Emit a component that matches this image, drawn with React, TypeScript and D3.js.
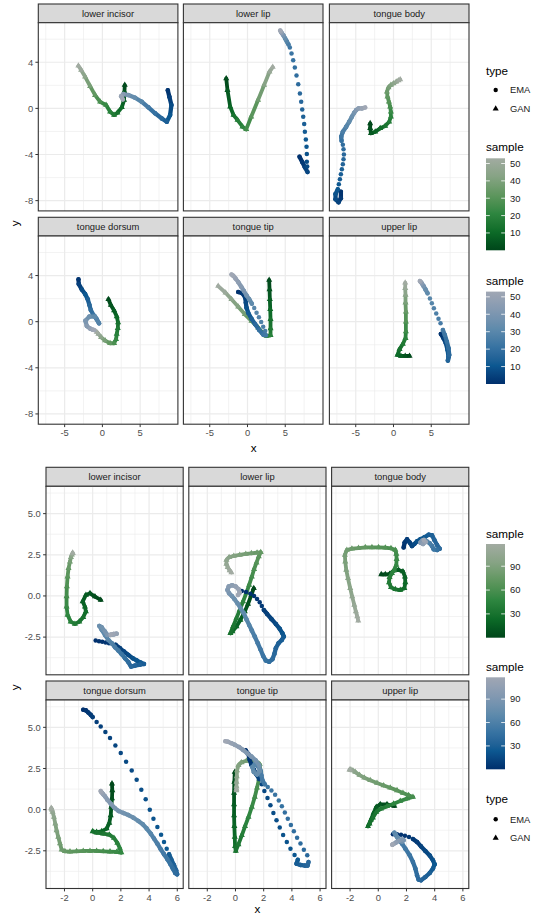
import React, { useEffect, useRef } from 'react';
import * as d3 from 'd3';

// one point of a trajectory: [sample, x, y]
type Pt = [number, number, number];

const facetNames = ['lower incisor', 'lower lip', 'tongue body', 'tongue dorsum', 'tongue tip', 'upper lip'];
const typeNames = ['EMA', 'GAN'];

// axes of the upper figure
const topXTicks = [-5, 0, 5];
const topXMinor = [-7.5, -2.5, 2.5, 7.5];
const topYTicks = [-8, -4, 0, 4];
const topYMinor = [-6, -2, 2, 6];
const topSampleBreaks = [10, 20, 30, 40, 50];
const topSampleRange = [0, 53];

// axes of the lower figure
const botXTicks = [-2, 0, 2, 4, 6];
const botXMinor = [-3, -1, 1, 3, 5];
const botYTicks = [-2.5, 0, 2.5, 5];
const botYMinor = [-3.75, -1.25, 1.25, 3.75, 6.25];
const botSampleBreaks = [30, 60, 90];
const botSampleRange = [0, 118];

// ---- upper figure trajectories ----
const topLowerIncisorGan: Pt[] = [
  [0, 2.96, 2.02], [3, 2.92, 1.44], [6, 2.87, 0.72], [9, 2.57, 0.09], [12, 1.99, -0.38], [15, 1.55, -0.58],
  [18, 1.02, -0.29], [21, 0.49, 0.29], [25, -0.3, 0.57], [30, -0.97, 1.15], [36, -1.63, 1.93], [42, -2.29, 2.74],
  [48, -2.82, 3.32], [53, -3.18, 3.69],
];
const topLowerIncisorEma: Pt[] = [
  [0, 8.66, 1.58], [3, 8.87, 1.0], [6, 9.14, 0.29], [9, 8.97, -0.58], [12, 8.53, -1.16], [15, 7.87, -0.87],
  [19, 6.98, -0.43], [23, 6.09, 0.09], [27, 5.22, 0.57], [31, 4.33, 0.92], [36, 3.44, 1.15], [42, 2.78, 1.24],
  [47, 2.48, 1.06], [53, 2.7, 0.78],
];
const topLowerLipGan: Pt[] = [
  [0, -2.82, 2.6], [4, -2.65, 1.58], [8, -2.29, 0.14], [12, -1.85, -0.58], [16, -1.32, -1.01], [20, -0.66, -1.59],
  [23, -0.17, -1.82], [28, 0.49, -0.73], [34, 1.4, 0.72], [40, 2.2, 2.02], [46, 2.91, 3.17], [53, 3.34, 3.58],
];
const topLowerLipEma: Pt[] = [
  [0, 6.89, -4.19], [2, 7.25, -4.65], [4, 7.6, -5.11], [6, 7.95, -5.52], [7, 7.91, -5.05], [8, 7.86, -4.62],
  [9, 7.86, -3.96], [10, 7.82, -3.32], [11, 7.73, -2.69], [12, 7.6, -2.02], [13, 7.51, -1.36], [14, 7.38, -0.72],
  [15, 7.25, -0.09], [16, 7.11, 0.57], [17, 6.94, 1.3], [18, 6.72, 2.1], [19, 6.49, 2.85], [20, 6.27, 3.55],
  [21, 6.05, 4.18], [22, 5.83, 4.76], [23, 5.61, 5.28], [24, 5.43, 5.54], [27, 5.21, 5.8], [31, 4.99, 6.06],
  [36, 4.77, 6.32], [42, 4.55, 6.52], [48, 4.42, 6.66], [53, 4.33, 6.75],
];
const topTongueBodyGan: Pt[] = [
  [0, -3.09, -1.3], [2, -3.09, -1.73], [4, -2.99, -2.16], [7, -2.42, -2.03], [10, -1.76, -1.73], [13, -1.1, -1.53],
  [16, -0.57, -1.16], [19, -0.35, -0.73], [22, -0.35, -0.29], [25, -0.44, 0.14], [28, -0.61, 0.57], [31, -0.79, 1.0],
  [34, -0.87, 1.44], [37, -0.66, 1.82], [40, -0.35, 2.02], [43, 0, 2.16], [46, 0.36, 2.3], [50, 0.66, 2.42],
  [53, 0.89, 2.51],
];
const topTongueBodyEma: Pt[] = [
  [0, -6.97, -7.22], [2, -6.97, -7.79], [4, -7.28, -8.14], [6, -7.68, -7.88], [8, -7.68, -7.42], [10, -7.37, -7.02],
  [11, -7.24, -6.58], [12, -7.1, -6.15], [13, -6.97, -5.72], [14, -6.84, -5.28], [15, -6.71, -4.85], [16, -6.62, -4.42],
  [17, -6.57, -3.99], [18, -6.62, -3.55], [19, -6.71, -3.15], [20, -6.88, -2.8], [22, -6.93, -2.46], [25, -6.71, -2.02],
  [28, -6.26, -1.59], [31, -5.87, -1.16], [34, -5.51, -0.72], [37, -5.21, -0.38], [40, -4.94, -0.15], [44, -4.63, 0],
  [48, -4.19, 0], [53, -3.75, 0.08],
];
const topTongueDorsumGan: Pt[] = [
  [0, 0.8, 1.94], [3, 1.11, 1.45], [6, 1.55, 0.96], [9, 1.9, 0.44], [12, 2.08, -0.08], [15, 2.04, -0.57],
  [18, 1.9, -1.06], [21, 1.81, -1.53], [25, 1.55, -1.87], [30, 1.02, -1.87], [36, 0.36, -1.64], [42, -0.17, -1.35],
  [48, -0.53, -1.06], [53, -0.75, -0.89],
];
const topTongueDorsumEma: Pt[] = [
  [0, -3.17, 3.67], [3, -3.13, 3.26], [6, -2.73, 2.8], [9, -2.29, 2.4], [12, -1.94, 1.94], [15, -1.72, 1.45],
  [18, -1.54, 1.01], [21, -1.19, 0.58], [24, -0.75, 0.21], [27, -0.44, -0.14], [30, -0.97, 0.44], [34, -1.72, 0.44],
  [38, -2.25, 0.09], [42, -2.07, -0.37], [46, -1.63, -0.6], [50, -1.28, -0.69], [53, -1.1, -0.72],
];
const topTongueTipGan: Pt[] = [
  [0, 2.87, 3.61], [3, 2.92, 2.8], [6, 2.96, 1.94], [9, 3.01, 1.07], [12, 3.05, 0.21], [15, 3.05, -0.6],
  [18, 3.05, -1.18], [21, 2.52, -1.24], [24, 2.08, -1.01], [28, 1.42, -0.52], [32, 0.53, 0.06], [36, -0.35, 0.64],
  [40, -1.23, 1.3], [44, -2.12, 1.94], [48, -2.91, 2.51], [53, -3.88, 3.09],
];
const topTongueTipEma: Pt[] = [
  [0, -1.23, 2.57], [2, -0.66, 2.46], [4, -0.3, 2.08], [6, -0.22, 1.65], [8, -0.13, 1.21], [10, 0.09, 0.78],
  [13, 0.53, 0.26], [16, 1.02, -0.23], [19, 1.55, -0.72], [22, 2.08, -1.12], [24, 2.43, -1.18], [25, 2.34, -0.81],
  [26, 2.08, -0.43], [27, 1.81, -0.03], [28, 1.51, 0.38], [29, 1.2, 0.78], [30, 0.89, 1.19], [31, 0.58, 1.56],
  [33, 0.23, 1.94], [36, -0.13, 2.28], [39, -0.48, 2.66], [42, -0.83, 3.03], [45, -1.23, 3.44], [48, -1.59, 3.75],
  [51, -1.89, 3.99], [53, -2.12, 4.1],
];
const topUpperLipGan: Pt[] = [
  [0, 2.12, -2.97], [3, 1.55, -2.97], [6, 0.98, -2.97], [9, 0.53, -2.88], [12, 0.8, -2.39], [15, 1.24, -1.93],
  [18, 1.59, -1.44], [22, 1.64, -0.86], [27, 1.64, 0.0], [32, 1.64, 0.87], [37, 1.59, 1.65], [42, 1.59, 2.31],
  [47, 1.55, 2.89], [53, 1.55, 3.38],
];
const topUpperLipEma: Pt[] = [
  [0, 6.27, -1.06], [3, 6.63, -1.44], [6, 6.94, -1.87], [9, 7.16, -2.45], [12, 7.29, -3.03], [14, 7.2, -3.37],
  [16, 7.38, -2.88], [18, 7.29, -2.31], [20, 7.07, -1.73], [22, 6.8, -1.15], [24, 6.54, -0.72], [25, 6.23, -0.14],
  [26, 5.96, 0.26], [27, 5.66, 0.7], [28, 5.35, 1.16], [29, 5.08, 1.59], [30, 4.82, 2.02], [31, 4.51, 2.46],
  [33, 4.24, 2.8], [37, 3.98, 3.09], [42, 3.76, 3.32], [47, 3.58, 3.47], [53, 3.49, 3.52],
];

// ---- lower figure trajectories ----
const botLowerIncisorGan: Pt[] = [
  [0, 0.57, -0.24], [4, 0.16, -0.04], [8, -0.19, 0.16], [12, -0.48, 0.06], [16, -0.71, -0.34], [20, -0.55, -0.65],
  [24, -0.48, -0.95], [28, -0.67, -1.29], [32, -0.95, -1.56], [36, -1.26, -1.7], [40, -1.56, -1.56], [45, -1.78, -1.15],
  [50, -1.85, -0.65], [55, -1.85, -0.04], [60, -1.83, 0.57], [66, -1.78, 1.17], [72, -1.71, 1.68], [80, -1.61, 2.08],
  [90, -1.54, 2.35], [100, -1.47, 2.51], [110, -1.42, 2.59], [118, -1.42, 2.63],
];
const botLowerIncisorEma: Pt[] = [
  [0, 0.21, -2.71], [1, 0.45, -2.75], [2, 0.68, -2.79], [3, 0.92, -2.83], [4, 1.16, -2.87], [5, 1.39, -2.91],
  [6, 1.63, -2.97], [9, 1.94, -3.18], [12, 2.22, -3.38], [15, 2.53, -3.58], [18, 2.84, -3.78], [21, 3.12, -3.92],
  [24, 3.41, -4.05], [27, 3.64, -4.13], [30, 3.36, -4.17], [33, 3.0, -4.23], [36, 2.72, -4.29], [40, 2.53, -4.02],
  [44, 2.29, -3.78], [48, 2.06, -3.54], [52, 1.82, -3.32], [56, 1.58, -3.11], [60, 1.35, -2.87], [64, 1.11, -2.67],
  [68, 0.87, -2.37], [72, 0.64, -2.06], [76, 0.47, -1.82], [80, 0.64, -1.9], [84, 0.87, -2.16], [88, 1.04, -2.37],
  [94, 1.28, -2.37], [100, 1.51, -2.33], [106, 1.7, -2.29], [112, 1.47, -2.31], [118, 1.28, -2.35],
];
const botLowerLipGan: Pt[] = [
  [0, 1.3, 0.47], [4, 1.13, 0.06], [8, 0.89, -0.49], [12, 0.66, -0.95], [16, 0.35, -1.46], [20, 0.07, -1.86],
  [24, -0.22, -2.16], [28, -0.36, -2.27], [32, -0.17, -1.86], [36, 0.07, -1.35], [40, 0.3, -0.85], [44, 0.54, -0.34],
  [48, 0.78, 0.2], [52, 0.97, 0.67], [56, 1.16, 1.17], [60, 1.32, 1.62], [64, 1.49, 2.02], [68, 1.65, 2.39],
  [72, 1.79, 2.65], [76, 1.53, 2.63], [80, 1.13, 2.59], [84, 0.73, 2.55], [88, 0.3, 2.49], [92, -0.12, 2.43],
  [96, -0.45, 2.35], [100, -0.64, 2.18], [104, -0.64, 1.94], [108, -0.55, 1.74], [113, -0.41, 1.54], [118, -0.29, 1.42],
];
const botLowerLipEma: Pt[] = [
  [0, 0.45, 0.3], [1, 0.75, 0.24], [2, 1.06, 0.14], [3, 1.32, 0], [4, 1.53, -0.18], [5, 1.72, -0.38],
  [6, 1.87, -0.61], [7, 2.01, -0.85], [9, 2.24, -1.09], [12, 2.55, -1.4], [15, 2.86, -1.7], [18, 3.14, -2.0],
  [21, 3.33, -2.27], [24, 3.43, -2.47], [27, 3.29, -2.67], [30, 3.05, -2.87], [33, 2.86, -3.18], [36, 2.76, -3.52],
  [39, 2.62, -3.84], [42, 2.39, -4.0], [45, 2.15, -3.92], [48, 1.96, -3.64], [51, 1.77, -3.24], [54, 1.58, -2.87],
  [57, 1.37, -2.47], [60, 1.16, -2.1], [63, 0.97, -1.76], [66, 0.78, -1.42], [69, 0.59, -1.05], [72, 0.37, -0.75],
  [75, 0.14, -0.44], [78, -0.08, -0.18], [81, -0.26, 0], [85, -0.45, 0.16], [90, -0.57, 0.36], [95, -0.48, 0.57],
  [100, -0.24, 0.65], [105, 0.02, 0.57], [110, 0.23, 0.4], [114, 0.3, 0.2], [118, 0.18, 0.06],
];
const botTongueBodyGan: Pt[] = [
  [0, 0.21, 1.31], [3, 0.5, 1.31], [6, 0.8, 1.33], [9, 1.09, 1.54], [12, 1.44, 1.58], [15, 1.75, 1.48],
  [18, 1.89, 1.17], [21, 1.92, 0.81], [24, 1.85, 0.47], [27, 1.56, 0.36], [30, 1.21, 0.4], [33, 0.9, 0.53],
  [36, 0.76, 0.81], [39, 0.8, 1.13], [42, 0.97, 1.38], [45, 1.14, 1.58], [48, 1.28, 1.88], [51, 1.3, 2.23],
  [54, 1.28, 2.55], [57, 1.21, 2.79], [60, 0.9, 2.89], [63, 0.5, 2.93], [66, 0.02, 2.95], [69, -0.45, 2.95],
  [72, -0.92, 2.95], [75, -1.4, 2.91], [78, -1.87, 2.87], [81, -2.23, 2.79], [84, -2.37, 2.49], [87, -2.34, 2.08],
  [90, -2.27, 1.58], [94, -2.15, 1.07], [98, -1.99, 0.47], [102, -1.85, -0.04], [106, -1.7, -0.55], [110, -1.59, -0.95],
  [114, -1.49, -1.25], [118, -1.42, -1.5],
];
const botTongueBodyEma: Pt[] = [
  [0, 1.8, 2.95], [3, 1.87, 3.24], [6, 2.04, 3.44], [9, 2.23, 3.24], [12, 2.39, 3.03], [15, 2.56, 3.16],
  [18, 2.75, 3.32], [21, 2.98, 3.44], [24, 3.27, 3.56], [27, 3.57, 3.72], [30, 3.81, 3.68], [33, 3.98, 3.4],
  [36, 4.17, 3.09], [40, 4.36, 2.87], [44, 4.17, 2.79], [48, 3.93, 2.83], [52, 3.81, 3.03], [56, 3.65, 3.2],
  [62, 3.46, 3.3], [70, 3.27, 3.4], [80, 3.1, 3.36], [90, 2.98, 3.24], [100, 3.17, 3.16], [110, 3.36, 3.28],
  [118, 3.22, 3.4],
];
const botTongueDorsumGan: Pt[] = [
  [0, 1.37, 1.58], [3, 1.39, 1.17], [6, 1.37, 0.67], [9, 1.32, 0.16], [12, 1.28, -0.35], [15, 1.18, -0.81],
  [18, 0.99, -1.15], [21, 0.64, -1.32], [24, 0.28, -1.36], [27, 0.0, -1.32], [30, 0.28, -1.4], [33, 0.75, -1.46],
  [36, 1.18, -1.52], [39, 1.51, -1.72], [42, 1.75, -2.02], [45, 1.92, -2.33], [48, 2.03, -2.61], [51, 1.7, -2.57],
  [54, 1.23, -2.55], [57, 0.75, -2.53], [60, 0.28, -2.51], [63, -0.19, -2.51], [66, -0.67, -2.51], [69, -1.14, -2.53],
  [72, -1.61, -2.55], [75, -1.97, -2.53], [78, -2.2, -2.43], [82, -2.32, -2.06], [86, -2.44, -1.66], [90, -2.56, -1.26],
  [94, -2.65, -0.85], [98, -2.75, -0.45], [103, -2.84, -0.14], [108, -2.89, 0.0], [113, -2.91, 0.06], [118, -2.94, 0.1],
];
const botTongueDorsumEma: Pt[] = [
  [0, -0.67, 6.07], [2, -0.48, 6.03], [4, -0.31, 5.9], [6, -0.14, 5.76], [8, 0.0, 5.62], [9, 0.28, 5.32],
  [10, 0.57, 5.05], [11, 0.9, 4.71], [12, 1.23, 4.35], [13, 1.61, 3.9], [14, 1.99, 3.44], [15, 2.37, 2.91],
  [16, 2.77, 2.38], [17, 3.12, 1.82], [18, 3.45, 1.21], [19, 3.76, 0.63], [20, 4.05, 0.0], [21, 4.31, -0.55],
  [22, 4.59, -1.05], [23, 4.85, -1.52], [24, 5.06, -1.96], [25, 5.25, -2.37], [26, 5.42, -2.71], [28, 5.58, -3.04],
  [31, 5.77, -3.38], [34, 5.92, -3.68], [37, 5.99, -3.93], [40, 5.85, -3.85], [43, 5.68, -3.58], [46, 5.49, -3.28],
  [49, 5.3, -3.02], [52, 5.06, -2.71], [55, 4.83, -2.41], [58, 4.59, -2.07], [61, 4.35, -1.76], [64, 4.12, -1.46],
  [67, 3.83, -1.15], [70, 3.55, -0.89], [73, 3.24, -0.69], [76, 2.89, -0.49], [79, 2.53, -0.33], [82, 2.18, -0.2],
  [85, 1.84, -0.08], [88, 1.56, 0.1], [92, 1.28, 0.36], [96, 1.04, 0.6], [100, 0.87, 0.81], [105, 0.75, 0.93],
  [110, 0.66, 1.03], [115, 0.59, 1.09], [118, 0.57, 1.13],
];
const botTongueTipGan: Pt[] = [
  [0, -0.05, 2.28], [4, -0.08, 1.68], [8, -0.1, 1.01], [12, -0.1, 0.32], [16, -0.1, -0.35], [20, -0.08, -1.01],
  [24, -0.05, -1.66], [28, -0.03, -2.23], [31, 0.02, -2.51], [34, 0.21, -2.11], [38, 0.45, -1.56], [42, 0.68, -1.01],
  [46, 0.92, -0.45], [50, 1.16, 0.16], [54, 1.37, 0.77], [58, 1.53, 1.33], [62, 1.68, 1.88], [66, 1.77, 2.38],
  [70, 1.72, 2.75], [74, 1.49, 2.93], [78, 1.13, 2.99], [82, 0.78, 2.97], [86, 0.42, 2.87], [90, 0.21, 2.69],
  [94, 0.11, 2.38], [98, 0.09, 2.02], [103, 0.07, 1.68], [108, 0.07, 1.41], [113, 0.07, 1.25], [118, 0.07, 1.17],
];
const botTongueTipEma: Pt[] = [
  [0, 0.73, 3.6], [2, 0.92, 3.36], [4, 1.01, 3.03], [6, 1.13, 2.73], [8, 1.3, 2.43], [10, 1.49, 2.14],
  [12, 1.68, 1.86], [13, 1.87, 1.54], [14, 2.05, 1.13], [15, 2.27, 0.71], [16, 2.48, 0.26], [17, 2.69, -0.2],
  [18, 2.91, -0.65], [19, 3.14, -1.09], [20, 3.38, -1.54], [21, 3.64, -1.96], [22, 3.9, -2.37], [23, 4.19, -2.75],
  [24, 4.42, -3.04], [26, 4.33, -3.28], [29, 4.61, -3.36], [32, 4.92, -3.4], [35, 5.11, -3.4], [37, 5.18, -3.18],
  [38, 5.09, -2.77], [39, 4.85, -2.43], [40, 4.61, -2.06], [41, 4.37, -1.7], [42, 4.14, -1.32], [43, 3.93, -0.93],
  [44, 3.71, -0.55], [45, 3.5, -0.18], [46, 3.29, 0.2], [47, 3.07, 0.56], [48, 2.81, 0.91], [49, 2.55, 1.17],
  [50, 2.29, 1.37], [51, 2.08, 1.54], [53, 1.91, 1.78], [56, 1.84, 2.08], [59, 1.77, 2.38], [62, 1.6, 2.63],
  [65, 1.37, 2.75], [68, 1.2, 2.59], [71, 1.3, 2.28], [74, 1.53, 2.14], [77, 1.72, 2.34], [80, 1.68, 2.69],
  [84, 1.44, 2.99], [88, 1.13, 3.23], [92, 0.82, 3.43], [96, 0.54, 3.63], [100, 0.26, 3.8], [104, -0.05, 3.94],
  [108, -0.29, 4.04], [112, -0.53, 4.12], [118, -0.72, 4.16],
];
const botUpperLipGan: Pt[] = [
  [0, 1.14, 0.22], [4, 0.62, 0.32], [8, 0.14, 0.32], [12, -0.14, 0.16], [16, -0.33, -0.2], [20, -0.52, -0.61],
  [24, -0.73, -1.01], [27, -0.62, -0.85], [30, -0.38, -0.49], [33, -0.14, -0.14], [36, 0.19, 0.06], [40, 0.62, 0.2],
  [44, 1.09, 0.36], [48, 1.56, 0.52], [52, 2.04, 0.67], [56, 2.46, 0.77], [60, 2.15, 0.87], [64, 1.75, 1.01],
  [68, 1.33, 1.17], [72, 0.85, 1.33], [76, 0.38, 1.47], [80, -0.09, 1.62], [84, -0.57, 1.78], [88, -0.99, 1.94],
  [92, -1.33, 2.1], [96, -1.63, 2.28], [100, -1.8, 2.38], [106, -1.94, 2.43], [112, -1.99, 2.43], [118, -2.04, 2.43],
];
const botUpperLipEma: Pt[] = [
  [0, 1.04, -1.5], [1, 1.33, -1.5], [2, 1.61, -1.52], [3, 1.89, -1.58], [4, 2.18, -1.66], [5, 2.46, -1.78],
  [7, 2.75, -1.96], [10, 3.03, -2.23], [13, 3.34, -2.51], [16, 3.65, -2.79], [19, 3.88, -3.08], [22, 4.0, -3.32],
  [25, 3.88, -3.58], [28, 3.65, -3.85], [31, 3.34, -4.09], [34, 3.03, -4.29], [37, 2.86, -4.25], [40, 2.75, -3.99],
  [43, 2.63, -3.58], [46, 2.46, -3.18], [49, 2.23, -2.77], [52, 1.92, -2.37], [55, 1.68, -2.06], [58, 1.44, -1.8],
  [61, 1.25, -1.56], [64, 1.14, -1.4], [68, 1.23, -1.5], [72, 1.37, -1.7], [76, 1.52, -1.86], [80, 1.68, -1.94],
  [85, 1.8, -1.86], [90, 1.68, -1.82], [95, 1.44, -1.9], [100, 1.25, -2.0], [106, 1.09, -2.08], [112, 1.02, -2.11],
  [118, 0.99, -2.13],
];

const topEma = [topLowerIncisorEma, topLowerLipEma, topTongueBodyEma, topTongueDorsumEma, topTongueTipEma, topUpperLipEma];
const topGan = [topLowerIncisorGan, topLowerLipGan, topTongueBodyGan, topTongueDorsumGan, topTongueTipGan, topUpperLipGan];
const botEma = [botLowerIncisorEma, botLowerLipEma, botTongueBodyEma, botTongueDorsumEma, botTongueTipEma, botUpperLipEma];
const botGan = [botLowerIncisorGan, botLowerLipGan, botTongueBodyGan, botTongueDorsumGan, botTongueTipGan, botUpperLipGan];

const greenStops = ['#00461a', '#0d6b28', '#2e8640', '#5e965e', '#86a384', '#a2aba2'];
const blueStops = ['#002f6c', '#0c5891', '#3773a2', '#5f8bac', '#8399b1', '#a0a7b4'];

const FONT = '"Liberation Sans", Arial, Helvetica, sans-serif';
const SMALL = 9.4;
const TITLE = 11.7;

interface Layout {
  colLeft: number[];
  panelW: number;
  stripTop: number[];
  stripH: number;
  panelH: number;
  xDomain: [number, number];
  yDomain: [number, number];
  xTicks: number[];
  xMinor: number[];
  yTicks: number[];
  yMinor: number[];
  yFmt: (v: number) => string;
  xTitle: [number, number];
  yTitle: [number, number];
}

const topLayout: Layout = {
  colLeft: [38.3, 183.4, 329.4],
  panelW: 139.6,
  stripTop: [4, 217.3],
  stripH: 18.7,
  panelH: 188.2,
  xDomain: [-8.49, 10.0],
  yDomain: [-8.89, 7.43],
  xTicks: topXTicks,
  xMinor: topXMinor,
  yTicks: topYTicks,
  yMinor: topYMinor,
  yFmt: (v) => String(v),
  xTitle: [253.6, 447.5],
  yTitle: [15, 223.3],
};

const botLayout: Layout = {
  colLeft: [46, 188.8, 331.6],
  panelW: 137.2,
  stripTop: [467.3, 681],
  stripH: 19,
  panelH: 188.5,
  xDomain: [-3.31, 6.42],
  yDomain: [-4.79, 6.66],
  xTicks: botXTicks,
  xMinor: botXMinor,
  yTicks: botYTicks,
  yMinor: botYMinor,
  yFmt: (v) => v.toFixed(1),
  xTitle: [257.4, 909],
  yTitle: [15, 687.3],
};

function sampleColor(stops: string[], range: number[]) {
  const dom = stops.map((_, i) => range[0] + (i / (stops.length - 1)) * (range[1] - range[0]));
  return d3.scaleLinear<string>().domain(dom).range(stops).interpolate(d3.interpolateLab).clamp(true);
}

const triPath = d3.symbol().type(d3.symbolTriangle).size(16)() as string;

// samples that were skipped between two listed points lie on the joining stroke
function drawTrack(g: any, pts: Pt[], x: any, y: any, color: (s: number) => string, shape: 'circle' | 'triangle') {
  pts.forEach((p, i) => {
    if (i > 0 && p[0] - pts[i - 1][0] > 1) {
      const q = pts[i - 1];
      g.append('line')
        .attr('x1', x(q[1])).attr('y1', y(q[2]))
        .attr('x2', x(p[1])).attr('y2', y(p[2]))
        .attr('stroke', color((p[0] + q[0]) / 2))
        .attr('stroke-width', shape === 'circle' ? 4.3 : 3.8)
        .attr('stroke-linecap', 'round');
    }
    if (shape === 'circle') {
      g.append('circle').attr('cx', x(p[1])).attr('cy', y(p[2])).attr('r', 2.25).attr('fill', color(p[0]));
    } else {
      g.append('path').attr('d', triPath)
        .attr('transform', `translate(${x(p[1])},${y(p[2])})`)
        .attr('fill', color(p[0]));
    }
  });
}

function drawFacets(svg: any, L: Layout, ema: Pt[][], gan: Pt[][], range: number[]) {
  const x = d3.scaleLinear().domain(L.xDomain).range([0, L.panelW]);
  const y = d3.scaleLinear().domain(L.yDomain).range([L.panelH, 0]);
  const green = sampleColor(greenStops, range);
  const blue = sampleColor(blueStops, range);

  facetNames.forEach((name, i) => {
    const col = i % 3;
    const row = Math.floor(i / 3);
    const left = L.colLeft[col];
    const sTop = L.stripTop[row];
    const top = sTop + L.stripH;

    // strip
    svg.append('rect')
      .attr('x', left).attr('y', sTop).attr('width', L.panelW).attr('height', L.stripH)
      .attr('fill', '#d9d9d9').attr('stroke', '#333333').attr('stroke-width', 1.1);
    svg.append('text')
      .attr('x', left + L.panelW / 2).attr('y', sTop + L.stripH / 2).attr('dy', '0.35em')
      .attr('text-anchor', 'middle').attr('font-size', SMALL).attr('fill', '#1a1a1a')
      .text(name);

    const g = svg.append('g').attr('transform', `translate(${left},${top})`);
    g.append('rect').attr('width', L.panelW).attr('height', L.panelH).attr('fill', '#ffffff');

    // grid
    L.xMinor.forEach((v) => g.append('line').attr('x1', x(v)).attr('x2', x(v)).attr('y1', 0).attr('y2', L.panelH)
      .attr('stroke', '#ebebeb').attr('stroke-width', 0.6));
    L.yMinor.forEach((v) => g.append('line').attr('y1', y(v)).attr('y2', y(v)).attr('x1', 0).attr('x2', L.panelW)
      .attr('stroke', '#ebebeb').attr('stroke-width', 0.6));
    L.xTicks.forEach((v) => g.append('line').attr('x1', x(v)).attr('x2', x(v)).attr('y1', 0).attr('y2', L.panelH)
      .attr('stroke', '#ebebeb').attr('stroke-width', 1.2));
    L.yTicks.forEach((v) => g.append('line').attr('y1', y(v)).attr('y2', y(v)).attr('x1', 0).attr('x2', L.panelW)
      .attr('stroke', '#ebebeb').attr('stroke-width', 1.2));

    drawTrack(g, gan[i], x, y, green, 'triangle');
    drawTrack(g, ema[i], x, y, blue, 'circle');

    g.append('rect').attr('width', L.panelW).attr('height', L.panelH)
      .attr('fill', 'none').attr('stroke', '#333333').attr('stroke-width', 1.1);

    if (col === 0) {
      L.yTicks.forEach((v) => {
        g.append('line').attr('x1', -2.9).attr('x2', 0).attr('y1', y(v)).attr('y2', y(v))
          .attr('stroke', '#333333').attr('stroke-width', 1);
        g.append('text').attr('x', -5.2).attr('y', y(v)).attr('dy', '0.35em')
          .attr('text-anchor', 'end').attr('font-size', SMALL).attr('fill', '#4d4d4d')
          .text(L.yFmt(v));
      });
    }
    if (row === 1) {
      L.xTicks.forEach((v) => {
        g.append('line').attr('x1', x(v)).attr('x2', x(v)).attr('y1', L.panelH).attr('y2', L.panelH + 2.9)
          .attr('stroke', '#333333').attr('stroke-width', 1);
        g.append('text').attr('x', x(v)).attr('y', L.panelH + 5.2).attr('dy', '0.75em')
          .attr('text-anchor', 'middle').attr('font-size', SMALL).attr('fill', '#4d4d4d')
          .text(String(v));
      });
    }
  });

  svg.append('text').attr('x', L.xTitle[0]).attr('y', L.xTitle[1]).attr('dy', '0.35em')
    .attr('text-anchor', 'middle').attr('font-size', TITLE).attr('fill', '#000').text('x');
  svg.append('text')
    .attr('transform', `translate(${L.yTitle[0]},${L.yTitle[1]}) rotate(-90)`)
    .attr('dy', '0.35em').attr('text-anchor', 'middle').attr('font-size', TITLE).attr('fill', '#000').text('y');
}

function drawTypeLegend(svg: any, left: number, titleY: number, rowY: number[]) {
  svg.append('text').attr('x', left).attr('y', titleY).attr('dy', '0.35em')
    .attr('font-size', TITLE).attr('fill', '#000').text('type');
  typeNames.forEach((t, i) => {
    if (t === 'EMA') {
      svg.append('circle').attr('cx', left + 9.7).attr('cy', rowY[i]).attr('r', 2.2).attr('fill', '#000');
    } else {
      svg.append('path').attr('d', triPath).attr('transform', `translate(${left + 9.7},${rowY[i]})`).attr('fill', '#000');
    }
    svg.append('text').attr('x', left + 24).attr('y', rowY[i]).attr('dy', '0.35em')
      .attr('font-size', SMALL).attr('fill', '#1a1a1a').text(t);
  });
}

function drawColorbar(svg: any, id: string, left: number, titleY: number, barTop: number, barH: number,
  stops: string[], range: number[], breaks: number[]) {
  const barW = 19;
  const color = sampleColor(stops, range);
  const grad = svg.append('defs').append('linearGradient').attr('id', id)
    .attr('x1', 0).attr('y1', 1).attr('x2', 0).attr('y2', 0);
  d3.range(0, 1.0001, 0.05).forEach((t) => {
    grad.append('stop').attr('offset', t).attr('stop-color', color(range[0] + t * (range[1] - range[0])));
  });
  svg.append('text').attr('x', left).attr('y', titleY).attr('dy', '0.35em')
    .attr('font-size', TITLE).attr('fill', '#000').text('sample');
  svg.append('rect').attr('x', left).attr('y', barTop).attr('width', barW).attr('height', barH)
    .attr('fill', `url(#${id})`);
  const s = d3.scaleLinear().domain(range).range([barTop + barH, barTop]);
  breaks.forEach((b) => {
    svg.append('line').attr('x1', left).attr('x2', left + 3.8).attr('y1', s(b)).attr('y2', s(b))
      .attr('stroke', '#ffffff').attr('stroke-width', 0.8);
    svg.append('line').attr('x1', left + barW - 3.8).attr('x2', left + barW).attr('y1', s(b)).attr('y2', s(b))
      .attr('stroke', '#ffffff').attr('stroke-width', 0.8);
    svg.append('text').attr('x', left + 24).attr('y', s(b)).attr('dy', '0.35em')
      .attr('font-size', SMALL).attr('fill', '#1a1a1a').text(String(b));
  });
}

const App: React.FC = () => {
  const svgRef = useRef<SVGSVGElement>(null);

  useEffect(() => {
    if (!svgRef.current) return;
    const svg = d3.select(svgRef.current);
    svg.selectAll('*').remove();
    svg.append('rect').attr('width', 538).attr('height', 915).attr('fill', '#ffffff');
    const root = svg.append('g').attr('font-family', FONT);

    // upper figure
    drawFacets(root, topLayout, topEma, topGan, topSampleRange);
    drawTypeLegend(root, 486, 70.7, [90, 108.7]);
    drawColorbar(root, 'top-green', 486, 147, 158.3, 92, greenStops, topSampleRange, topSampleBreaks);
    drawColorbar(root, 'top-blue', 486, 280.5, 291.6, 92.4, blueStops, topSampleRange, topSampleBreaks);

    // lower figure
    drawFacets(root, botLayout, botEma, botGan, botSampleRange);
    drawColorbar(root, 'bot-green', 486, 534, 544, 93.7, greenStops, botSampleRange, botSampleBreaks);
    drawColorbar(root, 'bot-blue', 486, 666.7, 677.3, 92, blueStops, botSampleRange, botSampleBreaks);
    drawTypeLegend(root, 486, 799, [819.3, 838]);
  }, []);

  return (
    <svg
      ref={svgRef}
      width={538}
      height={915}
      style={{ position: 'absolute', left: 0, top: 0, display: 'block' }}
    />
  );
};

export default App;
